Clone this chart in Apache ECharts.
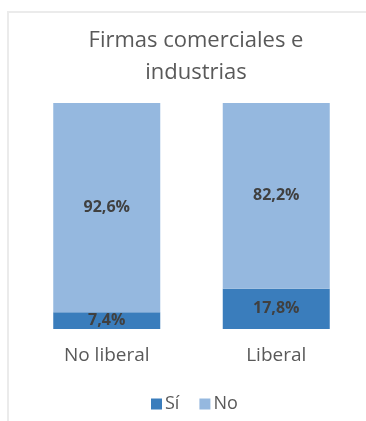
<!DOCTYPE html>
<html><head><meta charset="utf-8">
<script src="https://cdn.jsdelivr.net/npm/echarts@6/dist/echarts.min.js"></script>
<style>html,body{margin:0;padding:0;background:#fff}#c{width:366px;height:421px}</style>
</head><body><div id="c"></div>
<script>
const categories = ['No liberal', 'Liberal'];
const si = [7.4, 17.8];
const no = [92.6, 82.2];
const seriesNames = ['Sí', 'No'];

const chart = echarts.init(document.getElementById('c'));
const fmt = p => p.value.toFixed(1).replace('.', ',') + '%';
const font = '"Open Sans", "Liberation Sans", sans-serif';
chart.setOption({
  animation: false,
  graphic: [{
    type: 'rect', shape: {x: 8, y: 12, width: 370, height: 420},
    style: {fill: 'none', stroke: '#ebebeb', lineWidth: 2}, silent: true
  }],
  title: {
    text: 'Firmas comerciales e\nindustrias',
    left: 191, top: 20, textAlign: 'center',
    textStyle: {fontFamily: font, fontSize: 22, fontWeight: 'normal', color: '#595959', lineHeight: 32}
  },
  legend: {
    data: seriesNames, top: 390, left: 146,
    itemWidth: 11, itemHeight: 11, itemGap: 20, icon: 'rect',
    textStyle: {fontFamily: font, fontSize: 18, color: '#595959', padding: [0,0,0,-2]}
  },
  grid: {left: 22, right: 5, top: 103, bottom: 92},
  xAxis: {
    type: 'category', data: categories,
    axisLine: {show: false}, axisTick: {show: false},
    axisLabel: {fontFamily: font, fontSize: 19, color: '#595959', margin: 17}
  },
  yAxis: {type: 'value', min: 0, max: 100, show: false, splitLine: {show: false}},
  series: [
    {name: seriesNames[0], type: 'bar', stack: 't', data: si, barWidth: 107,
     itemStyle: {color: '#3a7dbc'},
     label: {show: true, position: 'inside', formatter: fmt, fontFamily: font, fontSize: 16, fontWeight: 'bold', color: '#404040'}},
    {name: seriesNames[1], type: 'bar', stack: 't', data: no, barWidth: 107,
     itemStyle: {color: '#95b8df'},
     label: {show: true, position: 'inside', formatter: fmt, fontFamily: font, fontSize: 16, fontWeight: 'bold', color: '#404040'}}
  ]
});
</script></body></html>
